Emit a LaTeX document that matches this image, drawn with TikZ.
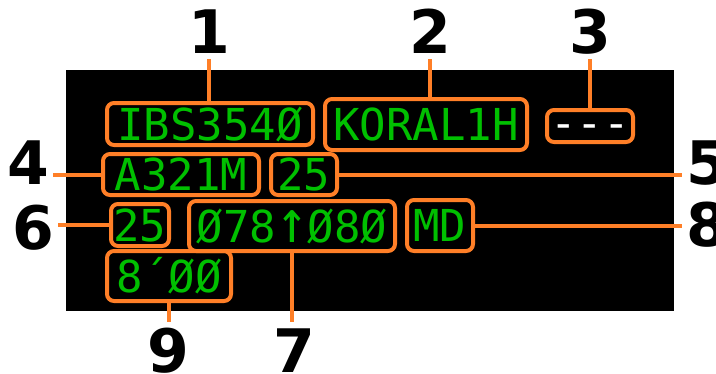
\documentclass[tikz,border=0pt]{standalone}
\usepackage{fontspec}
\usepackage{graphicx}
\newfontfamily\lcdfont{DejaVu Sans Mono}
\newfontfamily\calloutfont{DejaVu Sans}
\definecolor{lcdgreen}{HTML}{00C000}
\definecolor{calloutorange}{HTML}{FF7F27}
\begin{document}
\begin{tikzpicture}[x=1pt,y=-1pt,
  field/.style={draw=calloutorange,line width=4pt,rounded corners=7pt,inner sep=0pt,
    text=lcdgreen,font=\lcdfont\fontsize{44}{44}\selectfont,text height=32pt,text depth=0pt},
  callout/.style={inner xsep=4pt,inner ysep=6pt,font=\calloutfont\bfseries\fontsize{60}{60}\selectfont,
    text height=44pt,text depth=0pt},
  lead/.style={draw=calloutorange,line width=4pt}]
\useasboundingbox (0,0) rectangle (716,373);
\fill (66,70) rectangle (674,311);
% display fields
\node[field,minimum width=206pt,minimum height=42pt] (b1) at (210,124) {IBS354Ø};
\node[field,minimum width=202pt,minimum height=51pt] (b2) at (426,124.5) {KORAL1H};
\node[field,minimum width=86pt,minimum height=22pt,text=white] (b3) at (590,126) {\raisebox{4pt}{{-}{-}{-}}};
\node[field,minimum width=156pt,minimum height=41pt] (b4) at (181,174.5) {A321M};
\node[field,minimum width=66pt,minimum height=41pt] (b5) at (304,174.5) {25};
\node[field,minimum width=58pt,minimum height=42pt] (b6) at (140,225) {25};
\node[field,minimum width=206pt,minimum height=50pt] (b7) at (292,226) {Ø78\scalebox{1.2}[1.35]{↑}Ø8Ø};
\node[field,minimum width=66pt,minimum height=51pt] (b8) at (440,225.5) {MD};
\node[field,minimum width=124pt,minimum height=50pt] (b9) at (169,276) {8´ØØ};
% callout numbers
\node[callout] (n1) at (209,31) {1};
\node[callout] (n2) at (430,31) {2};
\node[callout] (n3) at (590,31) {3};
\node[callout] (n4) at (28,162) {4};
\node[callout] (n5) at (707,162) {5};
\node[callout] (n6) at (33,227) {6};
\node[callout] (n7) at (294,350) {7};
\node[callout] (n8) at (707,224) {8};
\node[callout] (n9) at (168,350) {9};
\draw[lead] (n1) -- (n1 |- b1.north);
\draw[lead] (n2) -- (n2 |- b2.north);
\draw[lead] (b3.north) -- (b3.north |- n3.south);
\draw[lead] (b4.west) -- (b4.west -| n4.east);
\draw[lead] (b5.east) -- (b5.east -| n5.west);
\draw[lead] (b6.west) -- (b6.west -| n6.east);
\draw[lead] (b7.south) -- (b7.south |- n7.north);
\draw[lead] (b8.east) -- (b8.east -| n8.west);
\draw[lead] (b9.south) -- (b9.south |- n9.north);
\end{tikzpicture}
\end{document}
